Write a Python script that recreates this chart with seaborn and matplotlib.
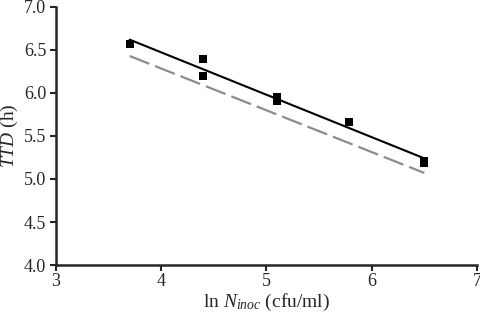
import matplotlib
matplotlib.use("Agg")
import matplotlib.pyplot as plt
import seaborn as sns
import pandas as pd

# observed points
ln_n = [3.70, 4.40, 4.40, 5.10, 5.10, 5.78, 6.50, 6.50]
ttd = [6.57, 6.40, 6.20, 5.95, 5.91, 5.66, 5.21, 5.19]

# fitted / predicted lines (endpoints)
fit_x = [3.70, 6.50]
fit_y = [6.62, 5.24]
pred_x = [3.70, 6.50]
pred_y = [6.43, 5.07]

sns.set_style("ticks")
plt.rcParams["font.family"] = ["Liberation Serif", "DejaVu Serif"]
plt.rcParams["mathtext.fontset"] = "custom"
plt.rcParams["mathtext.rm"] = "Liberation Serif"
plt.rcParams["mathtext.it"] = "Liberation Serif:italic"

fig = plt.figure(figsize=(4.8, 3.17), dpi=100)
ax = fig.add_axes([0.1167, 0.164, 0.877, 0.814])

pts = pd.DataFrame({"x": ln_n, "y": ttd})
sns.lineplot(x=pred_x, y=pred_y, ax=ax, color="#8c8c8c", linewidth=1.6, estimator=None)
ax.lines[-1].set_dashes((9.5, 2.8))
sns.lineplot(x=fit_x, y=fit_y, ax=ax, color="black", linewidth=1.5, estimator=None)
sns.scatterplot(data=pts, x="x", y="y", ax=ax, marker="s", s=30, color="black",
                edgecolor="black", linewidth=0, zorder=5)

ax.set_xlim(3, 7)
ax.set_ylim(4.0, 7.0)
ax.set_xticks([3, 4, 5, 6, 7])
ax.set_yticks([4.0, 4.5, 5.0, 5.5, 6.0, 6.5, 7.0])
ax.set_yticklabels(["4.0", "4.5", "5.0", "5.5", "6.0", "6.5", "7.0"])
ax.tick_params(labelsize=13, width=1.5, length=4, direction="out")
ax.tick_params(axis="y", pad=3)
ax.tick_params(axis="x", pad=2)
for s in ["left", "bottom"]:
    ax.spines[s].set_linewidth(1.8)
sns.despine(ax=ax)

ax.set_xlabel(r"ln $N_{inoc}$ (cfu/ml)", fontsize=14, labelpad=1)
ax.set_ylabel(r"$TTD$ (h)", fontsize=14, labelpad=3)

fig.savefig("out.png", dpi=100)
